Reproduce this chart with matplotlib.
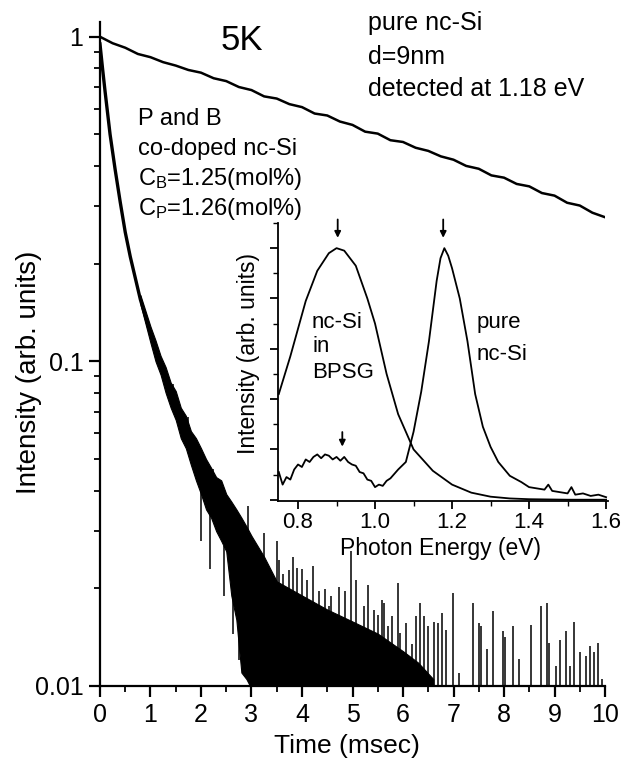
import matplotlib
matplotlib.use("Agg")
import matplotlib.pyplot as plt
from matplotlib.ticker import MultipleLocator, LogLocator, NullFormatter

plt.rcParams['font.family'] = ['Liberation Sans', 'DejaVu Sans']
plt.rcParams['mathtext.default'] = 'regular'

# decay of pure nc-Si (detected at 1.18 eV)
pure_t = [0, 0.25, 0.5, 0.75, 1.0, 1.25, 1.5, 1.75, 2.0, 2.25, 2.5, 2.75, 3.0, 3.25,
          3.5, 3.75, 4.0, 4.25, 4.5, 4.75, 5.0, 5.25, 5.5, 5.75, 6.0, 6.25, 6.5, 6.75,
          7.0, 7.25, 7.5, 7.75, 8.0, 8.25, 8.5, 8.75, 9.0, 9.25, 9.5, 9.75, 10.0]
pure_decay = [1.00, 0.955, 0.925, 0.885, 0.865, 0.835, 0.815, 0.79, 0.775, 0.745, 0.73,
              0.70, 0.685, 0.655, 0.645, 0.62, 0.607, 0.58, 0.572, 0.548, 0.535, 0.51,
              0.503, 0.48, 0.474, 0.455, 0.445, 0.428, 0.418, 0.40, 0.392, 0.374, 0.368,
              0.352, 0.346, 0.33, 0.324, 0.308, 0.302, 0.287, 0.278]

# decay of P and B co-doped nc-Si: early part as a line
codoped_t = [0, 0.05, 0.1, 0.2, 0.3, 0.4, 0.5, 0.6, 0.8, 1.0]
codoped_decay = [0.95, 0.80, 0.68, 0.50, 0.39, 0.31, 0.25, 0.21, 0.155, 0.122]

# noisy part: lower / upper envelope of the trace
band_t = [0.8, 1.0, 1.1, 1.2, 1.3, 1.4, 1.5, 1.6, 1.7, 1.8, 1.9, 2.0, 2.1, 2.2, 2.3,
          2.4, 2.5, 2.6, 2.7, 2.8, 2.9, 3.0, 3.25, 3.5, 4.0, 4.5, 5.0, 5.5, 6.0, 6.3, 6.6]
band_lo = [0.150, 0.114, 0.100, 0.091, 0.080, 0.072, 0.066, 0.058, 0.054, 0.048, 0.043,
           0.039, 0.035, 0.033, 0.030, 0.028, 0.026, 0.019, 0.016, 0.011, 0.0105, 0.0098,
           0.005, 0.005, 0.005, 0.005, 0.005, 0.005, 0.005, 0.005, 0.005]
band_hi = [0.160, 0.128, 0.116, 0.104, 0.096, 0.086, 0.081, 0.072, 0.068, 0.061, 0.058,
           0.054, 0.050, 0.047, 0.044, 0.043, 0.039, 0.037, 0.035, 0.033, 0.031, 0.029,
           0.025, 0.021, 0.019, 0.0172, 0.0158, 0.0145, 0.0128, 0.0118, 0.0105]

# short spikes rising out of the trace
rise_t = [1.45, 1.74, 2.24, 2.37, 2.77, 2.94]
rise_base = [0.075, 0.058, 0.040, 0.036, 0.028, 0.025]
rise_top = [0.085, 0.0675, 0.0465, 0.040, 0.033, 0.0358]

# spikes standing on the noise floor
spike_t = [3.22, 3.24, 3.50, 3.54, 3.62, 3.74, 3.83, 3.9, 4.0, 4.1, 4.22, 4.34, 4.46,
           4.54, 4.58, 4.74, 4.86, 4.98, 5.06, 5.22, 5.30, 5.42, 5.50, 5.58, 5.62, 5.70,
           5.78, 5.90, 5.94, 6.06, 6.18, 6.26, 6.34, 6.42, 6.50, 6.62, 6.70, 6.78, 6.86,
           6.98, 7.10, 7.38, 7.50, 7.54, 7.66, 7.78, 7.98, 8.02, 8.18, 8.30, 8.54, 8.74,
           8.86, 8.90, 9.02, 9.10, 9.22, 9.30, 9.38, 9.50, 9.62, 9.70, 9.78, 9.86, 9.94]
spike_top = [0.024, 0.0297, 0.028, 0.0244, 0.0222, 0.0228, 0.025, 0.0231, 0.023, 0.0212,
             0.0235, 0.0196, 0.0199, 0.0176, 0.0189, 0.0202, 0.0196, 0.026, 0.0212, 0.0176,
             0.0205, 0.0172, 0.0166, 0.0184, 0.018, 0.0153, 0.0164, 0.0207, 0.0146, 0.0156,
             0.0135, 0.0164, 0.018, 0.0164, 0.0153, 0.0158, 0.0156, 0.0168, 0.0149, 0.0193,
             0.011, 0.018, 0.0156, 0.0153, 0.013, 0.017, 0.0148, 0.0142, 0.0153, 0.0121,
             0.0154, 0.0176, 0.018, 0.0136, 0.0115, 0.0139, 0.0148, 0.0115, 0.0158, 0.0127,
             0.0124, 0.0133, 0.0127, 0.0136, 0.0105]
# spikes below the trace
dip_t = [2.0, 2.18, 2.45, 2.63, 2.75]
dip_top = [0.040, 0.034, 0.027, 0.020, 0.017]
dip_bottom = [0.028, 0.023, 0.019, 0.0145, 0.012]

# inset: PL spectra
bpsg_E = [0.75, 0.78, 0.80, 0.82, 0.85, 0.88, 0.90, 0.92, 0.95, 0.98, 1.00, 1.03, 1.06,
          1.10, 1.15, 1.20, 1.25, 1.30, 1.35, 1.40, 1.50, 1.60]
bpsg_pl = [0.42, 0.57, 0.68, 0.79, 0.91, 0.98, 1.00, 0.99, 0.93, 0.80, 0.70, 0.50, 0.34,
           0.20, 0.115, 0.06, 0.028, 0.012, 0.005, 0.002, 0.0, 0.0]
pure_E = [0.75, 0.76, 0.77, 0.78, 0.79, 0.80, 0.81, 0.82, 0.83, 0.84, 0.85, 0.86, 0.87,
          0.88, 0.89, 0.90, 0.91, 0.92, 0.93, 0.94, 0.95, 0.96, 0.97, 0.98, 0.99, 1.00,
          1.01, 1.02, 1.03, 1.04, 1.06, 1.08, 1.10, 1.12, 1.14, 1.15, 1.16, 1.17, 1.18,
          1.19, 1.20, 1.22, 1.24, 1.26, 1.28, 1.30, 1.32, 1.35, 1.38, 1.40, 1.42, 1.44,
          1.45, 1.46, 1.48, 1.50, 1.51, 1.52, 1.54, 1.56, 1.58, 1.60]
pure_pl = [0.11, 0.06, 0.09, 0.08, 0.12, 0.14, 0.13, 0.16, 0.15, 0.17, 0.18, 0.165, 0.18,
           0.175, 0.16, 0.17, 0.155, 0.17, 0.15, 0.14, 0.135, 0.11, 0.105, 0.08, 0.075,
           0.05, 0.06, 0.055, 0.075, 0.085, 0.12, 0.15, 0.27, 0.43, 0.63, 0.75, 0.87, 0.96,
           1.00, 0.97, 0.92, 0.80, 0.63, 0.42, 0.29, 0.21, 0.15, 0.095, 0.07, 0.05, 0.045,
           0.04, 0.06, 0.035, 0.03, 0.025, 0.05, 0.02, 0.025, 0.015, 0.02, 0.01]
arrow_E = [0.903, 1.177, 0.915]
arrow_tip = [1.03, 1.03, 0.20]
arrow_tail = [1.125, 1.125, 0.28]


def px(x, y):
    return x / 634, 1 - y / 770


fig = plt.figure(figsize=(6.34, 7.7), dpi=100)
ax = fig.add_axes([0.1577, 0.1091, 0.7966, 0.8623])

ax.plot(pure_t, pure_decay, color='black', lw=1.8)
ax.plot(codoped_t, codoped_decay, color='black', lw=2.4)
ax.fill_between(band_t, band_lo, band_hi, color='black', lw=0.8)
ax.vlines(rise_t, rise_base, rise_top, color='black', lw=1.1)
ax.vlines(spike_t, 0.008, spike_top, color='black', lw=1.1)
ax.vlines(dip_t, dip_bottom, dip_top, color='black', lw=1.1)

ax.set_yscale('log')
ax.set_xlim(0, 10)
ax.set_ylim(0.01, 1.11)
ax.set_yticks([0.01, 0.1, 1])
ax.set_yticklabels(['0.01', '0.1', '1'])
ax.yaxis.set_minor_locator(LogLocator(base=10, subs=[2, 3, 4, 5, 6, 7, 8, 9]))
ax.yaxis.set_minor_formatter(NullFormatter())
ax.set_xticks(range(11))
ax.xaxis.set_minor_locator(MultipleLocator(0.5))
for s in ['top', 'right']:
    ax.spines[s].set_visible(False)
for s in ['left', 'bottom']:
    ax.spines[s].set_linewidth(1.6)
ax.tick_params(which='major', direction='out', length=8, width=1.6, labelsize=18, pad=4)
ax.tick_params(which='minor', direction='out', length=4.5, width=1.3)

# inset
ins = fig.add_axes([0.4385, 0.3494, 0.5205, 0.361])
ins.patch.set_alpha(0)
ins.plot(bpsg_E, bpsg_pl, color='black', lw=1.3)
ins.plot(pure_E, pure_pl, color='black', lw=1.3)
ins.set_xlim(0.748, 1.605)
ins.set_ylim(-0.005, 1.1)
ins.set_xticks([0.8, 1.0, 1.2, 1.4, 1.6])
ins.set_xticklabels(['0.8', '1.0', '1.2', '1.4', '1.6'])
ins.xaxis.set_minor_locator(MultipleLocator(0.1))
ins.set_yticks([0, 0.2, 0.4, 0.6, 0.8, 1.0])
ins.set_yticklabels([])
ins.yaxis.set_minor_locator(MultipleLocator(0.1))
for s in ['top', 'right']:
    ins.spines[s].set_visible(False)
for s in ['left', 'bottom']:
    ins.spines[s].set_linewidth(1.3)
ins.tick_params(which='major', direction='out', length=6, width=1.3, labelsize=16, pad=2)
ins.tick_params(which='minor', direction='out', length=3.5, width=1.0)
for e, tip, tail in zip(arrow_E, arrow_tip, arrow_tail):
    ins.annotate('', xy=(e, tip), xytext=(e, tail), annotation_clip=False,
                 arrowprops=dict(arrowstyle='-|>', color='black', lw=1.3, mutation_scale=9))

# texts
fig.text(*px(242, 50), '5K', ha='center', va='baseline', size=25)
fig.text(*px(368, 30), 'pure nc-Si', va='baseline', size=18)
fig.text(*px(368, 64), 'd=9nm', va='baseline', size=18)
fig.text(*px(368, 96), 'detected at 1.18 eV', va='baseline', size=18)
fig.text(*px(138, 125), 'P and B', va='baseline', size=17)
fig.text(*px(138, 155), 'co-doped nc-Si', va='baseline', size=17)
fig.text(*px(138, 185), 'C$_B$=1.25(mol%)', va='baseline', size=17)
fig.text(*px(138, 215), 'C$_P$=1.26(mol%)', va='baseline', size=17)
fig.text(*px(312, 328), 'nc-Si', va='baseline', size=16)
fig.text(*px(312, 352), 'in', va='baseline', size=16)
fig.text(*px(312, 378), 'BPSG', va='baseline', size=16)
fig.text(*px(477, 328), 'pure', va='baseline', size=16)
fig.text(*px(477, 360), 'nc-Si', va='baseline', size=16)

fig.text(*px(29, 372), 'Intensity (arb. units)', rotation=90, ha='center', va='center', size=20)
fig.text(*px(347, 746), 'Time (msec)', ha='center', va='center', size=19)
fig.text(*px(248, 353), 'Intensity (arb. units)', rotation=90, ha='center', va='center', size=16.5)
fig.text(*px(440, 548), 'Photon Energy (eV)', ha='center', va='center', size=16.5)

fig.savefig('out.png', dpi=100)
